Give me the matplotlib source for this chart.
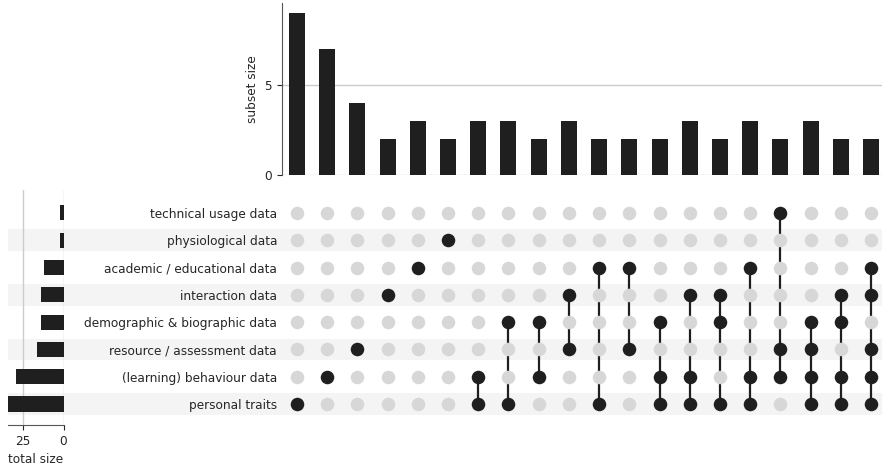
import numpy as np
import matplotlib
matplotlib.use("Agg")
import matplotlib.pyplot as plt

plt.rcParams['font.size'] = 8.7
plt.rcParams['text.color'] = '#262626'
plt.rcParams['xtick.color'] = '#262626'
plt.rcParams['ytick.color'] = '#262626'
plt.rcParams['axes.labelcolor'] = '#262626'

# categories, listed from the bottom row of the matrix upwards
categories = ['personal traits', '(learning) behaviour data', 'resource / assessment data',
              'demographic & biographic data', 'interaction data',
              'academic / educational data', 'physiological data', 'technical usage data']

# each intersection: which categories take part (by name) and its size
memberships = [
    ['personal traits'],
    ['(learning) behaviour data'],
    ['resource / assessment data'],
    ['interaction data'],
    ['academic / educational data'],
    ['physiological data'],
    ['personal traits', '(learning) behaviour data'],
    ['personal traits', 'demographic & biographic data'],
    ['(learning) behaviour data', 'demographic & biographic data'],
    ['resource / assessment data', 'interaction data'],
    ['personal traits', 'academic / educational data'],
    ['resource / assessment data', 'academic / educational data'],
    ['personal traits', '(learning) behaviour data', 'demographic & biographic data'],
    ['personal traits', '(learning) behaviour data', 'interaction data'],
    ['personal traits', 'demographic & biographic data', 'interaction data'],
    ['personal traits', '(learning) behaviour data', 'academic / educational data'],
    ['(learning) behaviour data', 'resource / assessment data', 'technical usage data'],
    ['personal traits', '(learning) behaviour data', 'resource / assessment data',
     'demographic & biographic data'],
    ['personal traits', '(learning) behaviour data', 'demographic & biographic data',
     'interaction data'],
    ['personal traits', '(learning) behaviour data', 'resource / assessment data',
     'interaction data', 'academic / educational data'],
]
subset_sizes = [9, 7, 4, 2, 3, 2, 3, 3, 2, 3, 2, 2, 2, 3, 2, 3, 2, 3, 2, 2]

# totals per category come from the intersections
totals = [sum(s for m, s in zip(memberships, subset_sizes) if c in m) for c in categories]

W, H = 882, 468
fig = plt.figure(figsize=(W / 100, H / 100), dpi=100)


def px_axes(x0, y0, x1, y1, **kw):
    # axes placed with pixel coords measured from the top-left corner
    return fig.add_axes([x0 / W, 1 - y1 / H, (x1 - x0) / W, (y1 - y0) / H], **kw)


dark = '#1f1f1f'
light = '#d7d7d7'
spine_c = '#555555'
n_rows = len(categories)
n_cols = len(subset_sizes)

row_px = 27.29
y_top, y_bot = 190, 425
ylim = (-(y_bot - 404) / row_px, (404 - y_top) / row_px)

# background stripes across totals + labels + matrix
bg = px_axes(8, y_top, 882, y_bot)
bg.set_xlim(0, 1)
bg.set_ylim(*ylim)
for r in range(0, n_rows, 2):
    bg.axhspan(r - 0.4, r + 0.4, color='#f4f4f4', lw=0)
bg.axis('off')

# matrix of dots
col_px = 30.2
mx = px_axes(297 - col_px / 2, y_top, 871 + col_px / 2, y_bot)
mx.patch.set_alpha(0)
mx.set_xlim(-0.5, n_cols - 0.5)
mx.set_ylim(*ylim)
for i, members in enumerate(memberships):
    rows = [categories.index(c) for c in members]
    for r in range(n_rows):
        mx.scatter(i, r, s=95, color=dark if r in rows else light, zorder=3, lw=0)
    if len(rows) > 1:
        mx.plot([i, i], [min(rows), max(rows)], color=dark, lw=1.6, zorder=2)
mx.set_yticks(range(n_rows))
mx.set_yticklabels(categories)
mx.tick_params(axis='y', length=0, pad=3.5)
mx.set_xticks([])
for sp in mx.spines.values():
    sp.set_visible(False)

# intersection size bars
bx = px_axes(297 - col_px / 2, 3, 871 + col_px / 2, 175)
bx.bar(range(n_cols), subset_sizes, width=0.53, color=dark, zorder=3)
bx.set_xlim(-0.5, n_cols - 0.5)
bx.set_ylim(0, 9.55)
bx.set_yticks([0, 5])
bx.yaxis.grid(True, color='#cccccc', lw=1)
bx.set_axisbelow(True)
bx.set_xticks([])
bx.set_ylabel('subset size')
for s in ['top', 'right', 'bottom']:
    bx.spines[s].set_visible(False)
bx.spines['left'].set_color(spine_c)

# totals bars
tx = px_axes(8, y_top, 63.5, y_bot)
tx.patch.set_alpha(0)
tx.barh(range(n_rows), totals, height=0.55, color=dark, zorder=3)
tx.set_ylim(*ylim)
tx.set_xlim(34, 0)
tx.set_xticks([25, 0])
tx.xaxis.grid(True, color='#cccccc', lw=1)
tx.set_axisbelow(True)
tx.set_yticks([])
tx.set_xlabel('total size')
for s in ['top', 'right', 'left']:
    tx.spines[s].set_visible(False)
tx.spines['bottom'].set_color(spine_c)

fig.savefig('out.png', dpi=100)
